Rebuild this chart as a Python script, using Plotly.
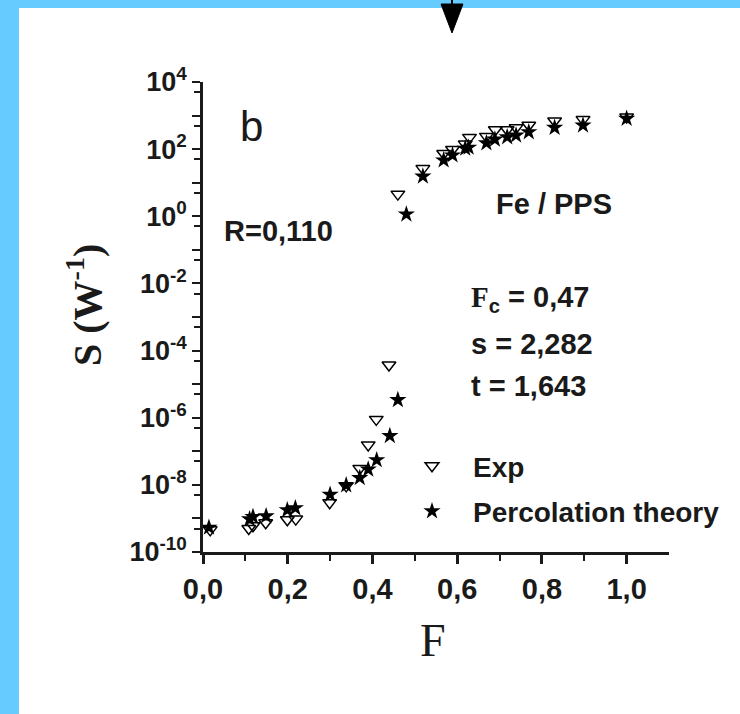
import plotly.graph_objects as go

# ---------------- data ----------------
exp_x = [0.017, 0.108, 0.118, 0.148, 0.199, 0.219, 0.299, 0.338, 0.370, 0.390, 0.409, 0.439,
         0.460, 0.519, 0.568, 0.589, 0.619, 0.629, 0.669, 0.690, 0.718, 0.739, 0.769, 0.830, 0.897, 1.000]
exp_logy = [-9.34, -9.30, -9.22, -9.13, -9.04, -9.02, -8.53, -8.03, -7.51, -6.81, -6.05, -4.43,
            0.66, 1.42, 1.87, 1.99, 2.15, 2.35, 2.38, 2.58, 2.58, 2.64, 2.71, 2.84, 2.88, 2.96]

theo_x = [0.014, 0.110, 0.118, 0.149, 0.199, 0.218, 0.300, 0.338, 0.370, 0.390, 0.410, 0.441, 0.460,
          0.480, 0.519, 0.568, 0.589, 0.619, 0.627, 0.669, 0.689, 0.718, 0.739, 0.769, 0.830, 0.897, 1.000]
theo_logy = [-9.27, -9.02, -8.95, -8.93, -8.75, -8.69, -8.29, -8.01, -7.79, -7.54, -7.26, -6.54, -5.47,
             0.06, 1.19, 1.67, 1.82, 2.02, 2.05, 2.18, 2.29, 2.36, 2.41, 2.51, 2.64, 2.71, 2.91]

exp_y = [10 ** v for v in exp_logy]
theo_y = [10 ** v for v in theo_logy]

x_tickvals = [0.0, 0.2, 0.4, 0.6, 0.8, 1.0]
x_ticktext = ["0,0", "0,2", "0,4", "0,6", "0,8", "1,0"]
x_minor = [0.1, 0.3, 0.5, 0.7, 0.9]

y_powers = list(range(-10, 5))
y_tickvals = [10.0 ** k for k in y_powers]
y_ticktext = [("10<sup>%d</sup>" % k) if k % 2 == 0 else "" for k in y_powers]
y_minor = [5 * 10.0 ** k for k in range(-11, 4)]

# ---------------- geometry helpers ----------------
W, H = 740, 714
L, R, T, B = 203, 71, 82, 162
PW, PH = W - L - R, H - T - B


def px(xp):
    return (xp - L) / PW


def py(yp):
    return (H - B - yp) / PH


SANS = "Liberation Sans, Arial, sans-serif"
SERIF = "Liberation Serif, Times New Roman, serif"
INK = "#1a1a1a"
BLUE = "#66CCFF"

fig = go.Figure()
fig.add_trace(go.Scatter(
    x=exp_x, y=exp_y, mode="markers", name="Exp", legendgroup="exp",
    marker=dict(symbol="triangle-down-open", size=12, color="black", line=dict(width=1.5, color="black")),
))
fig.add_trace(go.Scatter(
    x=theo_x, y=theo_y, mode="markers", name="Percolation theory", legendgroup="theo",
    marker=dict(symbol="star", size=13, color="black", line=dict(width=0)),
))

BOLD = dict(family=SANS, size=29, color=INK, weight="bold")
annotations = [
    dict(x=px(251), y=py(127), text="b", font=dict(family=SANS, size=42, color=INK),
         xanchor="center", yanchor="middle"),
    dict(x=px(278), y=py(231), text="R=0,110", font=BOLD, xanchor="center", yanchor="middle"),
    dict(x=px(554), y=py(204), text="Fe / PPS", font=BOLD, xanchor="center", yanchor="middle"),
    dict(x=px(469), y=py(299),
         text='<span style="font-family:Liberation Serif, serif">F</span><sub>c</sub> = 0,47',
         font=BOLD, xanchor="left", yanchor="middle"),
    dict(x=px(469), y=py(344), text="s = 2,282", font=BOLD, xanchor="left", yanchor="middle"),
    dict(x=px(469), y=py(386), text="t = 1,643", font=BOLD, xanchor="left", yanchor="middle"),
    dict(x=px(84), y=py(305), text="S (W<sup>-1</sup>)", textangle=-90,
         font=dict(family=SERIF, size=40, color=INK, weight="bold"), xanchor="center", yanchor="middle"),
    dict(x=px(433), y=py(640), text="F", font=dict(family=SERIF, size=46, color=INK),
         xanchor="center", yanchor="middle"),
]
for a in annotations:
    a.update(xref="paper", yref="paper", showarrow=False)

shapes = [
    # blue frame left and top
    dict(type="rect", xref="paper", yref="paper", x0=px(0), x1=px(19), y0=py(H), y1=py(0),
         fillcolor=BLUE, line=dict(width=0)),
    dict(type="rect", xref="paper", yref="paper", x0=px(0), x1=px(W), y0=py(8), y1=py(0),
         fillcolor=BLUE, line=dict(width=0)),
    # arrow at top
    dict(type="line", xref="paper", yref="paper", x0=px(452), x1=px(452), y0=py(0), y1=py(8),
         line=dict(color="black", width=2)),
    dict(type="path", xref="paper", yref="paper",
         path="M %f,%f L %f,%f L %f,%f Z" % (px(441), py(4), px(463), py(4), px(452), py(33)),
         fillcolor="black", line=dict(color="black", width=1)),
]

fig.update_layout(
    width=W, height=H, autosize=False,
    margin=dict(l=L, r=R, t=T, b=B, pad=0, autoexpand=False),
    paper_bgcolor="white", plot_bgcolor="white",
    showlegend=True,
    legend=dict(x=px(391), y=py(441), xanchor="left", yanchor="top",
                font=dict(family=SANS, size=28, color=INK, weight="bold"),
                bgcolor="rgba(0,0,0,0)", itemwidth=72, tracegroupgap=6),
    annotations=annotations,
    shapes=shapes,
    xaxis=dict(range=[0, 1.1], tickmode="array", tickvals=x_tickvals, ticktext=x_ticktext,
               ticks="outside", ticklen=9, tickwidth=2.5, tickcolor=INK, automargin=False,
               showline=True, linewidth=2.5, linecolor=INK, showgrid=False, zeroline=False,
               tickfont=dict(family=SANS, size=29, color=INK, weight="bold"),
               minor=dict(tickvals=x_minor, ticks="outside", ticklen=6, tickwidth=2, tickcolor=INK)),
    yaxis=dict(type="log", range=[-10, 4], tickmode="array", tickvals=y_tickvals, ticktext=y_ticktext,
               ticks="outside", ticklen=8, tickwidth=2, tickcolor=INK, automargin=False,
               showline=True, linewidth=2.5, linecolor=INK, showgrid=False, zeroline=False,
               tickfont=dict(family=SANS, size=27, color=INK, weight="bold"),
               minor=dict(tickvals=y_minor, ticks="outside", ticklen=6, tickwidth=2, tickcolor=INK)),
)

fig.write_html("out.html")
